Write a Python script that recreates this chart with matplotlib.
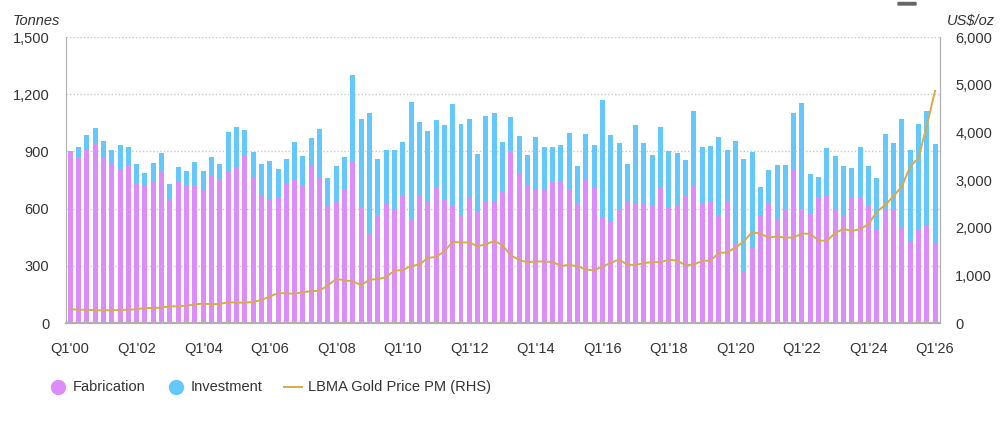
import matplotlib.pyplot as plt
from matplotlib.lines import Line2D
from matplotlib.patches import FancyBboxPatch
import numpy as np

# quarterly gold demand, tonnes (Q1'00 .. Q1'26)
fabrication = [898, 872, 912, 942, 872, 837, 800, 830, 732, 720, 743, 795,
               649, 743, 724, 724, 696, 773, 748, 790, 814, 882, 764, 671,
               644, 659, 732, 748, 720, 830, 766, 612, 642, 701, 842, 607,
               466, 565, 631, 596, 671, 544, 671, 640, 712, 649, 612, 565,
               654, 588, 642, 638, 694, 900, 785, 720, 696, 701, 738, 743,
               701, 631, 748, 708, 553, 532, 596, 642, 626, 626, 621, 706,
               607, 616, 670, 720, 624, 638, 563, 642, 420, 267, 392, 567,
               628, 544, 595, 801, 595, 574, 659, 673, 600, 565, 654, 659,
               614, 492, 600, 600, 506, 424, 494, 513, 412]
investment = [5, 50, 75, 82, 85, 68, 135, 94, 102, 68, 98, 98,
              80, 73, 75, 122, 103, 97, 86, 213, 213, 128, 134, 163,
              207, 150, 130, 202, 155, 140, 251, 150, 181, 169, 457, 464,
              633, 293, 279, 309, 281, 614, 381, 365, 352, 392, 539, 481,
              417, 300, 446, 461, 258, 181, 197, 161, 279, 223, 186, 192,
              293, 194, 241, 227, 619, 455, 346, 193, 410, 316, 261, 323,
              293, 277, 186, 391, 298, 292, 414, 268, 534, 591, 503, 145,
              173, 284, 233, 298, 558, 207, 107, 244, 276, 258, 157, 265,
              209, 267, 392, 345, 565, 481, 552, 600, 528]
# LBMA Gold Price PM, US$/oz
gold_price = [290, 280, 277, 268, 264, 268, 274, 278, 290, 313, 314, 323,
              352, 347, 363, 392, 408, 393, 401, 434, 427, 427, 440, 485,
              554, 628, 622, 614, 650, 667, 680, 788, 925, 896, 872, 795,
              908, 922, 960, 1100, 1109, 1197, 1227, 1367, 1386, 1506, 1702, 1688,
              1691, 1609, 1652, 1722, 1632, 1415, 1326, 1272, 1293, 1288, 1282, 1201,
              1218, 1192, 1124, 1105, 1183, 1260, 1335, 1222, 1219, 1257, 1278, 1275,
              1329, 1306, 1213, 1226, 1304, 1309, 1472, 1481, 1583, 1711, 1909, 1874,
              1794, 1816, 1790, 1795, 1877, 1871, 1729, 1726, 1890, 1976, 1929, 1971,
              2070, 2338, 2474, 2663, 2860, 3280, 3457, 4135, 4870]

quarters = ["Q%d'%02d" % (q, y) for y in range(0, 27) for q in range(1, 5)][:len(fabrication)]
tick_labels = quarters[::8]

FAB_C = '#DD8DF9'
INV_C = '#64C8FD'
GOLD_C = '#D8AA4C'
TXT = '#333333'

plt.rcParams['font.family'] = ['Liberation Sans', 'DejaVu Sans']

fig = plt.figure(figsize=(10.07, 4.28), dpi=100)
ax = fig.add_axes([0.0655, 0.2453, 0.868, 0.6682])
x = np.arange(len(fabrication))

ax.bar(x, fabrication, width=0.6, color=FAB_C, zorder=2)
ax.bar(x, investment, width=0.6, bottom=fabrication, color=INV_C, zorder=2)

ax.set_xlim(-0.5, len(x) - 0.4)
ax.set_ylim(0, 1500)
ax.set_yticks(range(0, 1501, 300))
ax.set_yticklabels(['{:,}'.format(v) for v in range(0, 1501, 300)])
ax.set_xticks(x[::8])
ax.set_xticklabels(tick_labels)
ax.grid(axis='y', color='#c8c8c8', linestyle=(0, (1, 1.5)), linewidth=1, zorder=0)
ax.tick_params(axis='x', length=0, pad=14, labelsize=10.5, colors=TXT)
ax.tick_params(axis='y', length=0, pad=12, labelsize=10.5, colors=TXT)
for s in ['left', 'bottom', 'right']:
    ax.spines[s].set_color('#b0b0b0')
ax.spines['bottom'].set_linewidth(1.6)
ax.spines['top'].set_visible(False)

ax2 = ax.twinx()
ax2.plot(x, gold_price, color=GOLD_C, linewidth=1.4, zorder=3)
ax2.set_ylim(0, 6000)
ax2.set_yticks(range(0, 6001, 1000))
ax2.set_yticklabels(['{:,}'.format(v) for v in range(0, 6001, 1000)])
ax2.tick_params(axis='y', length=0, pad=11, labelsize=10.5, colors=TXT)
for s in ['left', 'top', 'bottom']:
    ax2.spines[s].set_visible(False)
ax2.spines['right'].set_color('#b0b0b0')

fig.text(0.013, 0.951, 'Tonnes', style='italic', fontsize=10.5, color=TXT, va='center')
fig.text(0.940, 0.951, 'US$/oz', style='italic', fontsize=10.5, color=TXT, va='center')

# legend
ly = 1 - 387 / 428
fig.add_artist(Line2D([58 / 1007], [ly], marker='o', markersize=10, color=FAB_C, linestyle='none'))
fig.text(73 / 1007, ly, 'Fabrication', fontsize=10.5, color=TXT, va='center')
fig.add_artist(Line2D([176 / 1007], [ly], marker='o', markersize=10, color=INV_C, linestyle='none'))
fig.text(191 / 1007, ly, 'Investment', fontsize=10.5, color=TXT, va='center')
fig.add_artist(Line2D([284 / 1007, 302 / 1007], [ly, ly], color=GOLD_C, linewidth=1.4))
fig.text(308 / 1007, ly, 'LBMA Gold Price PM (RHS)', fontsize=10.5, color=TXT, va='center')

# small menu glyph at top right
fig.patches.append(FancyBboxPatch((898 / 1007, 1 - 5 / 428), 18 / 1007, 2.5 / 428,
                                  boxstyle='round,pad=0', color='#666666',
                                  transform=fig.transFigure, figure=fig))

fig.savefig('out.png', dpi=100)
